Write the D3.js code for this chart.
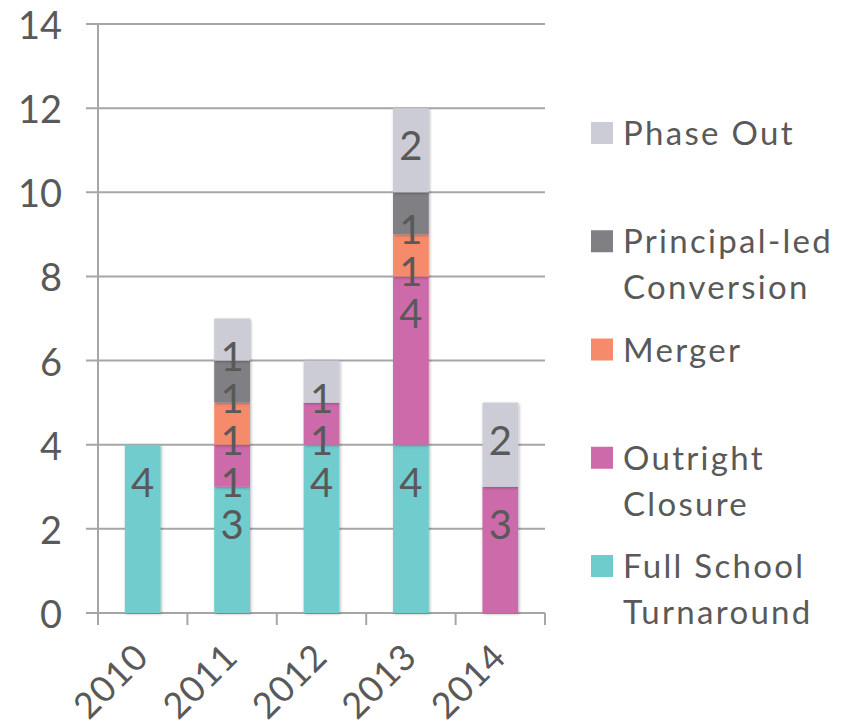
<!doctype html>
<html lang="en">
<head>
<meta charset="utf-8">
<script src="https://d3js.org/d3.v7.min.js"></script>
<title>Stacked bars</title>
<style>
  body { margin: 0; background: #fff; }
  svg { display: block; font-family: Lato, "DejaVu Sans", sans-serif; }
  .grid line { stroke: #a6a6a6; stroke-width: 2; }
  .lbl { fill: #595959; }
</style>
</head>
<body>
<div id="chart"></div>
<script>
const years = ['2010', '2011', '2012', '2013', '2014'];
const seriesNames = ['Full School Turnaround', 'Outright Closure', 'Merger', 'Principal-led Conversion', 'Phase Out'];
const fullSchool = [4, 3, 4, 4, 0];
const outright = [0, 1, 1, 4, 3];
const merger = [0, 1, 0, 1, 0];
const principal = [0, 1, 0, 1, 0];
const phaseOut = [0, 1, 1, 2, 2];
const colors = ['#6fcccd', '#cc6aaa', '#f68b6c', '#7f7f84', '#cbccd6'];
const legendLines = [['Full School', 'Turnaround'], ['Outright', 'Closure'], ['Merger'], ['Principal-led', 'Conversion'], ['Phase Out']];
const yTicks = [0, 2, 4, 6, 8, 10, 12, 14];

const W = 848, H = 727;
const mLeft = 98, mRight = 545, mTop = 24, mBottom = 613;

const rows = years.map((y, i) => ({
  year: y,
  [seriesNames[0]]: fullSchool[i],
  [seriesNames[1]]: outright[i],
  [seriesNames[2]]: merger[i],
  [seriesNames[3]]: principal[i],
  [seriesNames[4]]: phaseOut[i]
}));

const stacked = d3.stack().keys(seriesNames)(rows);

const x = d3.scaleBand().domain(years).range([mLeft, mRight]).paddingInner(0.6).paddingOuter(0.3);
const xb = d3.scaleBand().domain(years).range([mLeft, mRight]);
const y = d3.scaleLinear().domain([0, 14]).range([mBottom, mTop]);
const color = d3.scaleOrdinal().domain(seriesNames).range(colors);

const svg = d3.select('#chart').append('svg').attr('width', W).attr('height', H);

const defs = svg.append('defs');
const f = defs.append('filter').attr('id', 'shadow').attr('x', '-20%').attr('y', '-10%').attr('width', '140%').attr('height', '120%');
f.append('feDropShadow').attr('dx', 1).attr('dy', 1).attr('stdDeviation', 1.5).attr('flood-color', '#000').attr('flood-opacity', 0.3);

// gridlines
svg.append('g').attr('class', 'grid')
  .selectAll('line').data(yTicks).join('line')
  .attr('x1', mLeft - 12).attr('x2', mRight)
  .attr('y1', d => y(d)).attr('y2', d => y(d));

// y axis line
svg.append('line').attr('x1', mLeft).attr('x2', mLeft).attr('y1', mTop).attr('y2', mBottom + 12)
  .attr('stroke', '#a6a6a6').attr('stroke-width', 2);

// x ticks at band boundaries
const bounds = years.map(d => xb(d)).concat([mRight]);
svg.append('g').selectAll('line').data(bounds).join('line')
  .attr('x1', d => d).attr('x2', d => d)
  .attr('y1', mBottom).attr('y2', mBottom + 12)
  .attr('stroke', '#a6a6a6').attr('stroke-width', 2);

// y labels
svg.append('g').selectAll('text').data(yTicks).join('text')
  .attr('class', 'lbl')
  .attr('x', 62).attr('y', d => y(d))
  .attr('text-anchor', 'end').attr('dominant-baseline', 'central')
  .attr('font-size', 38)
  .text(d => d);

// x labels
svg.append('g').selectAll('text').data(years).join('text')
  .attr('class', 'lbl')
  .attr('font-size', 36)
  .attr('letter-spacing', 1)
  .attr('text-anchor', 'end')
  .attr('transform', d => `translate(${x(d) + x.bandwidth() / 2 + 8},${mBottom + 46}) rotate(-45)`)
  .text(d => d);

// bars
const layers = svg.append('g').selectAll('g').data(stacked).join('g')
  .attr('fill', d => color(d.key));

layers.selectAll('rect').data(d => d.filter(s => s[1] - s[0] > 0)).join('rect')
  .attr('x', d => x(d.data.year))
  .attr('width', x.bandwidth())
  .attr('y', d => y(d[1]))
  .attr('height', d => y(d[0]) - y(d[1]))
  .attr('filter', 'url(#shadow)');

// value labels
const labelData = [];
stacked.forEach(s => s.forEach(d => {
  if (d[1] - d[0] > 0) labelData.push({ year: d.data.year, top: d[1], v: d[1] - d[0] });
}));
svg.append('g').selectAll('text').data(labelData).join('text')
  .attr('class', 'lbl')
  .attr('font-size', 40)
  .attr('text-anchor', 'middle')
  .attr('dominant-baseline', 'central')
  .attr('x', d => x(d.year) + x.bandwidth() / 2)
  .attr('y', d => y(d.top) + 37)
  .text(d => d.v);

// legend
const legendOrder = d3.range(seriesNames.length).reverse();
const ly = d3.scaleLinear().domain([0, 4]).range([132, 565]);
const lg = svg.append('g').selectAll('g').data(legendOrder).join('g')
  .attr('transform', (d, i) => `translate(591,${ly(i)})`);
lg.append('rect').attr('x', 0).attr('y', -10).attr('width', 22).attr('height', 22)
  .attr('fill', d => colors[d]);
lg.append('text').attr('class', 'lbl').attr('font-size', 33)
  .attr('letter-spacing', 2.3)
  .attr('x', 32).attr('dominant-baseline', 'central')
  .selectAll('tspan').data(d => legendLines[d]).join('tspan')
  .attr('x', 32).attr('dy', (t, j) => j === 0 ? 0 : 46)
  .text(t => t);
</script>
</body>
</html>
